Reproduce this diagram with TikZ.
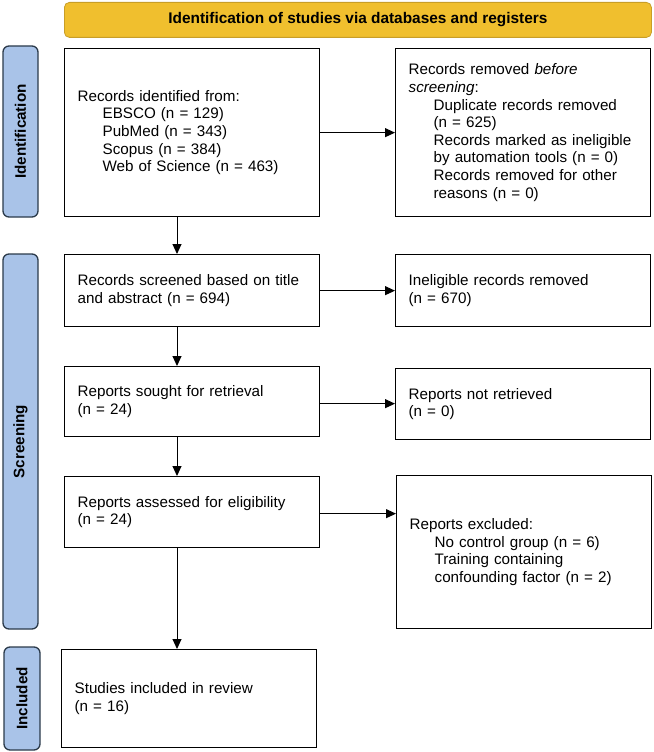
\documentclass[tikz,border=0pt]{standalone}
\usepackage{fontspec}
\setmainfont{Liberation Sans}
\usetikzlibrary{arrows.meta}
\definecolor{hdrfill}{RGB}{240,191,46}
\definecolor{hdrdraw}{RGB}{200,158,40}
\definecolor{barfill}{RGB}{169,195,232}
\definecolor{bardraw}{RGB}{43,58,74}
\begin{document}
\begin{tikzpicture}[x=1pt,y=-1pt,
  box/.style={draw=black, line width=1.3pt, rectangle, inner xsep=13pt, inner ysep=0pt,
    align=left, text width=229pt, minimum width=255pt,
    font=\fontsize{15.2}{17.6}\selectfont, anchor=north west},
  arr/.style={-{Triangle[length=10pt,width=9pt]}, line width=1pt},
  side/.style={draw=bardraw, fill=barfill, line width=1.3pt, rounded corners=6pt,
    rotate=90, font=\bfseries\fontsize{15.2}{17.6}\selectfont, inner sep=0pt},
  header/.style={draw=hdrdraw, fill=hdrfill, line width=0.8pt, rounded corners=5pt,
    font=\bfseries\fontsize{15.4}{17.6}\selectfont, anchor=north west, inner sep=0pt}
]
\useasboundingbox (0,0) rectangle (653,752);

\node[header, minimum width=587pt, minimum height=35pt] (hdr) at (64,2)
  {Identification of studies via databases and registers};

\node[side, minimum width=171pt, minimum height=35pt] (idbar) at (20.5,131.5) {Identification};
\node[side, minimum width=375pt, minimum height=35pt] (scbar) at (20.5,441.5) {Screening};
\node[side, minimum width=103pt, minimum height=36pt] (inbar) at (22,698.5) {Included};

\node[box, minimum height=168pt] (A) at (64,48)
  {Records identified from:\\
   \hspace*{25pt}EBSCO (n = 129)\\
   \hspace*{25pt}PubMed (n = 343)\\
   \hspace*{25pt}Scopus (n = 384)\\
   \hspace*{25pt}Web of Science (n = 463)};
\node[box, minimum height=168pt] (B) at (395,48)
  {Records removed \textit{before}\\
   \textit{screening}:\\
   \hspace*{25pt}Duplicate records removed\\
   \hspace*{25pt}(n = 625)\\
   \hspace*{25pt}Records marked as ineligible\\
   \hspace*{25pt}by automation tools (n = 0)\\
   \hspace*{25pt}Records removed for other\\
   \hspace*{25pt}reasons (n = 0)};

\node[box, minimum height=72pt] (C) at (64,254)
  {Records screened based on title\\ and abstract (n = 694)};
\node[box, minimum height=72pt] (D) at (395,254)
  {Ineligible records removed\\ (n = 670)};

\node[box, minimum height=70pt] (E) at (64,366)
  {Reports sought for retrieval\\ (n = 24)};
\node[box, minimum height=71pt] (F) at (395,368)
  {Reports not retrieved\\ (n = 0)};

\node[box, minimum height=71pt] (G) at (64,476)
  {Reports assessed for eligibility\\ (n = 24)};
\node[box, minimum height=153pt] (H) at (396,475)
  {Reports excluded:\\
   \hspace*{25pt}No control group (n = 6)\\
   \hspace*{25pt}Training containing\\
   \hspace*{25pt}confounding factor (n = 2)};

\node[box, minimum height=98pt] (I) at (61,649)
  {Studies included in review\\ (n = 16)};

\coordinate (vx) at (177,0);
\draw[arr] (A.east) -- (A.east -| B.west);
\draw[arr] (A.south -| vx) -- (C.north -| vx);
\draw[arr] (C.east) -- (C.east -| D.west);
\draw[arr] (C.south -| vx) -- (E.north -| vx);
\draw[arr] ([yshift=-2pt]E.east) -- ([yshift=-2pt]E.east -| F.west);
\draw[arr] (E.south -| vx) -- (G.north -| vx);
\draw[arr] ([yshift=-1.5pt]G.east) -- ([yshift=-1.5pt]G.east -| H.west);
\draw[arr] (G.south -| vx) -- (I.north -| vx);
\end{tikzpicture}
\end{document}
